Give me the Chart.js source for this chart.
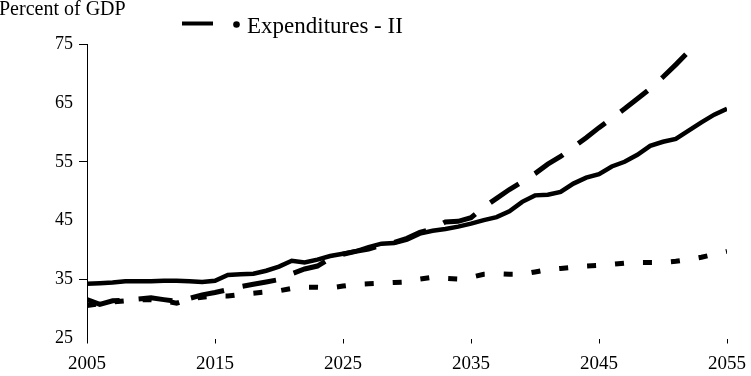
<!DOCTYPE html>
<html><head><meta charset="utf-8">
<script src="https://cdn.jsdelivr.net/npm/chart.js@4.4.1/dist/chart.umd.min.js"></script>
<style>html,body{margin:0;padding:0;background:#fff;overflow:hidden}#wrap{width:751px;height:376px}</style>
</head><body><div id="wrap"><canvas id="c" width="751" height="376"></canvas></div>
<script>
const years = [2005,2006,2007,2008,2009,2010,2011,2012,2013,2014,2015,2016,2017,2018,2019,2020,2021,2022,2023,2024,2025,2026,2027,2028,2029,2030,2031,2032,2033,2034,2035,2036,2037,2038,2039,2040,2041,2042,2043,2044,2045,2046,2047,2048,2049,2050,2051,2052,2053,2054,2055];
const seriesSolid = [34.3,34.4,34.5,34.7,34.7,34.7,34.8,34.8,34.7,34.6,34.8,35.8,35.9,36.0,36.5,37.2,38.2,37.9,38.4,39.0,39.4,39.8,40.5,41.1,41.2,41.8,42.8,43.3,43.6,44.0,44.5,45.1,45.6,46.6,48.2,49.3,49.4,49.9,51.3,52.3,52.9,54.2,55.0,56.2,57.7,58.4,58.9,60.3,61.7,63.0,64.0];
const seriesDashed = [31.6,30.8,31.4,31.5,31.7,31.9,31.6,31.3,31.8,32.4,32.8,33.3,33.8,34.2,34.6,35.0,36.0,36.8,37.3,38.6,39.3,39.8,40.2,40.8,41.3,42.0,43.0,43.6,44.8,44.9,45.5,47.3,48.8,50.3,51.6,53.0,54.6,55.9,57.5,59.1,60.8,62.4,64.0,65.7,67.4,69.4,71.5,73.7];
const seriesDotted = [30.6,30.9,31.2,31.4,31.6,31.6,31.4,31.0,31.7,32.0,32.2,32.2,32.5,32.7,32.9,33.1,33.5,33.7,33.7,33.6,33.9,34.2,34.3,34.4,34.5,34.6,35.1,35.4,35.2,35.1,35.4,35.9,36.0,35.9,35.9,36.3,36.7,36.9,37.1,37.3,37.4,37.6,37.8,37.9,37.9,37.9,38.1,38.4,38.8,39.3,39.8];
const xTickValues = [2005,2015,2025,2035,2045,2055];
const yTickValues = [25,35,45,55,65,75];
const yMarkedTicks = [35,55,75];
const axisTitle = 'Percent of GDP';
const legendLabel = 'Expenditures - II';

const FONT = "'Liberation Serif','Times New Roman',serif";
const pts = arr => arr.map((v, i) => ({x: years[i], y: v}));

const overlay = {
  id: 'overlay',
  afterDraw(chart) {
    const ctx = chart.ctx;
    ctx.save();
    ctx.fillStyle = '#000';
    ctx.textBaseline = 'alphabetic';
    ctx.textAlign = 'left';
    ctx.font = "20px " + FONT;
    ctx.fillText(axisTitle, -1, 15);
    ctx.strokeStyle = '#000';
    ctx.lineWidth = 4;
    ctx.lineCap = 'butt';
    ctx.beginPath();
    ctx.moveTo(182, 23.5);
    ctx.lineTo(213, 23.5);
    ctx.stroke();
    ctx.beginPath();
    ctx.arc(236.5, 24.5, 3.3, 0, Math.PI * 2);
    ctx.fill();
    ctx.font = "23px " + FONT;
    ctx.fillText(legendLabel, 247, 33);
    ctx.restore();
  }
};

new Chart(document.getElementById('c'), {
  type: 'line',
  data: {
    datasets: [
      {label: 'Solid', data: pts(seriesSolid), borderColor: '#000', borderWidth: 4.5, pointRadius: 0, tension: 0, fill: false},
      {label: legendLabel, data: pts(seriesDashed), borderColor: '#000', borderWidth: 5, borderDash: [34, 19], borderCapStyle: 'butt', pointRadius: 0, tension: 0, fill: false},
      {label: 'Dotted', data: pts(seriesDotted), borderColor: '#000', borderWidth: 5, borderDash: [9, 19], borderCapStyle: 'butt', pointRadius: 0, tension: 0, fill: false}
    ]
  },
  options: {
    responsive: false,
    animation: false,
    devicePixelRatio: 1,
    layout: {padding: {top: 44, right: 24, bottom: 0, left: 0}},
    plugins: {legend: {display: false}, title: {display: false}, tooltip: {enabled: false}},
    scales: {
      x: {
        type: 'linear', min: 2005, max: 2055,
        afterBuildTicks: s => { s.ticks = xTickValues.map(v => ({value: v})); },
        afterFit: s => { s.height = 37.5; s.paddingLeft = 0; s.paddingRight = 0; },
        ticks: {color: '#000', font: {family: FONT, size: 19}, padding: 9, maxRotation: 0, autoSkip: false, callback: v => String(v)},
        grid: {display: true, drawOnChartArea: false, drawTicks: true, tickLength: 5, color: '#000', lineWidth: 1},
        border: {display: false}
      },
      y: {
        type: 'linear', min: 25, max: 75,
        afterBuildTicks: s => { s.ticks = yTickValues.map(v => ({value: v})); },
        afterFit: s => { s.width = 87; },
        ticks: {color: '#000', font: {family: FONT, size: 18}, padding: 6, autoSkip: false, callback: v => String(v)},
        grid: {display: true, drawOnChartArea: false, drawTicks: true, tickLength: 8, lineWidth: 1,
               color: c => (c.tick && yMarkedTicks.includes(c.tick.value)) ? '#000' : 'rgba(0,0,0,0)'},
        border: {display: true, color: '#000', width: 1}
      }
    }
  },
  plugins: [overlay]
});
</script></body></html>
